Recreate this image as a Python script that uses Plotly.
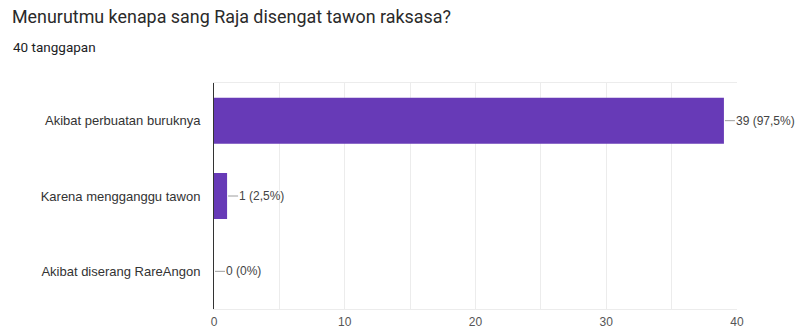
import plotly.graph_objects as go

categories = ["Akibat perbuatan buruknya", "Karena mengganggu tawon", "Akibat diserang RareAngon"]
counts = [39, 1, 0]
labels = ["39 (97,5%)", "1 (2,5%)", "0 (0%)"]
title_text = "Menurutmu kenapa sang Raja disengat tawon raksasa?"
subtitle_text = "40 tanggapan"
x_ticks = [0, 10, 20, 30, 40]

L, R, T, B = 214, 66, 83, 22
PW, PH = 803 - L - R, 331 - T - B

fig = go.Figure()
fig.add_trace(go.Bar(
    x=counts, y=categories, orientation="h",
    marker=dict(color="#673ab7", line=dict(width=0)),
    hoverinfo="none",
))

for c, v, t in zip(categories, counts, labels):
    fig.add_annotation(
        x=v, y=c, xref="x", yref="y", text=t,
        showarrow=True, arrowhead=0, arrowwidth=1, arrowcolor="#9e9e9e",
        ax=11, ay=0, xanchor="left", standoff=1, startstandoff=0,
        font=dict(family="Liberation Sans, Arial", size=12, color="#444444"),
        borderpad=0,
    )

fig.add_annotation(
    text=subtitle_text, xref="paper", yref="paper",
    x=(11 - L) / PW, y=1 + (T - 47) / PH, xanchor="left", yanchor="middle",
    showarrow=False,
    font=dict(family="Roboto, Arial", size=13.5, color="#202124"),
)

fig.update_layout(
    width=803, height=331,
    margin=dict(l=L, r=R, t=T, b=B),
    paper_bgcolor="white", plot_bgcolor="white",
    showlegend=False,
    bargap=0.39,
    title=dict(
        text=title_text, xref="container", yref="container",
        x=12/803, y=1 - 17/331, xanchor="left", yanchor="middle", automargin=False,
        font=dict(family="Roboto, Arial", size=17.9, color="#2a2a2a"),
    ),
    xaxis=dict(
        range=[0, 40], tickvals=x_ticks, showgrid=True, gridcolor="#ececec", gridwidth=1,
        minor=dict(dtick=5, showgrid=True, gridcolor="#ececec", gridwidth=1),
        zeroline=False, showline=True, linecolor="#ececec", mirror=True,
        ticks="", ticklabelstandoff=2, automargin=False,
        tickfont=dict(family="Liberation Sans, Arial", size=12, color="#555555"),
        fixedrange=True,
    ),
    yaxis=dict(
        categoryorder="array", categoryarray=categories, autorange="reversed",
        showline=True, linecolor="#333333", linewidth=1, showgrid=False,
        ticks="", ticklabelstandoff=10, automargin=False,
        tickfont=dict(family="Liberation Sans, Arial", size=13, color="#333333"),
        fixedrange=True,
    ),
)

fig.write_html("out.html")
